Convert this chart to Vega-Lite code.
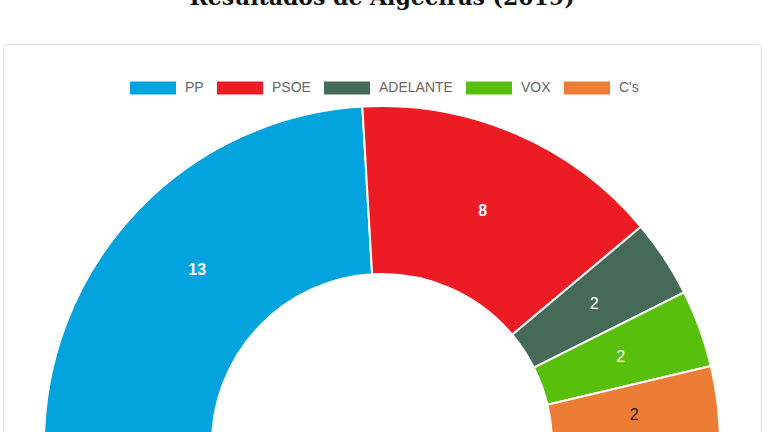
{
  "$schema": "https://vega.github.io/schema/vega-lite/v6.json",
  "description": "Resultados de Algeciras (2019), half donut of seats per party.",
  "autosize": {"type": "none"},
  "padding": {"left": 3, "top": 44, "right": 7, "bottom": 0},
  "width": 758,
  "height": 800,
  "background": "white",
  "view": {"stroke": "#dddddd", "strokeWidth": 1, "cornerRadius": 3, "fill": "white"},
  "title": {
    "text": "Resultados de Algeciras (2019)",
    "font": "DejaVu Serif",
    "fontSize": 22,
    "fontWeight": "bold",
    "color": "#111111",
    "anchor": "middle",
    "offset": 34
  },
  "config": {
    "legend": {
      "orient": "none",
      "legendX": 127,
      "legendY": 21,
      "direction": "horizontal",
      "columns": 5,
      "padding": 0,
      "symbolType": "M-1,-0.28H1V0.28H-1Z",
      "symbolSize": 2116,
      "symbolStrokeWidth": 0,
      "labelFont": "Liberation Sans",
      "labelFontSize": 14,
      "labelColor": "#666666",
      "labelOffset": 9,
      "columnPadding": 13
    }
  },
  "data": {
    "values": [
      {"party": "PP", "seats": 13},
      {"party": "PSOE", "seats": 8},
      {"party": "ADELANTE", "seats": 2},
      {"party": "VOX", "seats": 2},
      {"party": "C's", "seats": 2}
    ]
  },
  "transform": [{"window": [{"op": "row_number", "as": "ord"}]}],
  "encoding": {
    "theta": {
      "field": "seats",
      "type": "quantitative",
      "stack": true,
      "scale": {"range": [-1.5707963268, 1.5707963268]}
    },
    "order": {"field": "ord", "type": "quantitative"}
  },
  "layer": [
    {
      "mark": {"type": "arc", "radius": 338, "radius2": 170, "stroke": "white", "strokeWidth": 2},
      "encoding": {
        "color": {
          "field": "party",
          "type": "nominal",
          "scale": {
            "domain": ["PP", "PSOE", "ADELANTE", "VOX", "C's"],
            "range": ["#03a3de", "#ed1b24", "#456a58", "#58c00c", "#ed7d35"]
          },
          "legend": {"title": null}
        }
      }
    },
    {
      "mark": {"type": "text", "radius": 254, "font": "Liberation Sans", "fontSize": 16, "fontWeight": "bold", "color": "white", "align": "center", "baseline": "middle"},
      "encoding": {
        "text": {"condition": {"test": "datum.seats > 5", "field": "seats", "type": "quantitative"}, "value": ""}
      }
    },
    {
      "mark": {"type": "text", "radius": 254, "font": "Liberation Sans", "fontSize": 16, "align": "center", "baseline": "middle"},
      "encoding": {
        "text": {"condition": {"test": "datum.seats <= 5", "field": "seats", "type": "quantitative"}, "value": ""},
        "color": {"condition": {"test": "datum.party === \"C's\"", "value": "#222222"}, "value": "white"}
      }
    }
  ]
}
